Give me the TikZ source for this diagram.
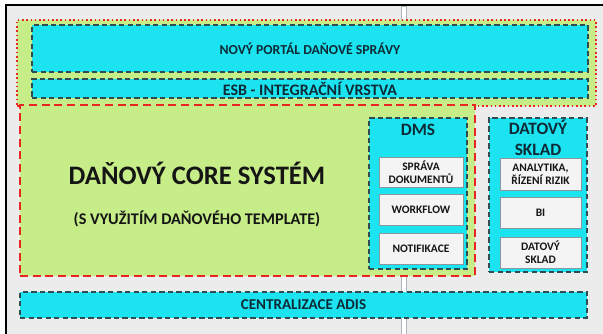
\documentclass[tikz,border=0pt]{standalone}
\usepackage{fontspec}
\setmainfont{Carlito}
\usepackage{tikz}
\usetikzlibrary{fit,backgrounds}
\definecolor{TaxCyan}{HTML}{1CE3F0}
\definecolor{TaxGreen}{HTML}{C6ED88}
\definecolor{TaxRed}{HTML}{E8251E}
\definecolor{TaxDark}{HTML}{2E4C52}
\definecolor{TaxNavy}{HTML}{0E2A36}
\definecolor{TaxText}{HTML}{151515}
\definecolor{TaxPaper}{HTML}{ECECEC}
\definecolor{TaxWhite}{HTML}{F4F4F4}
\definecolor{TaxGrey}{HTML}{8A979B}
\tikzset{
    % Box styles
    layerbox/.style={
        rectangle,
        draw=TaxDark,
        fill=TaxCyan,
        line width=1pt,
        dash pattern=on 4pt off 2.4pt,
        inner sep=0pt
    },
    groupbox/.style={
        rectangle,
        draw=TaxRed,
        fill=TaxGreen,
        line width=1.2pt,
        dash pattern=on 1.2pt off 2pt,
        inner sep=0pt
    },
    corebox/.style={
        rectangle,
        draw=TaxRed,
        fill=TaxGreen,
        line width=2pt,
        dash pattern=on 6pt off 3.5pt,
        inner sep=0pt
    },
    itembox/.style={
        rectangle,
        draw=TaxGrey,
        fill=TaxWhite,
        line width=0.6pt,
        inner sep=0pt
    },
    % Text styles
    layertext/.style={
        inner sep=0pt,
        text=TaxNavy,
        font=\fontsize{11}{13}\selectfont\bfseries
    },
    itemtext/.style={
        inner sep=0pt,
        align=center,
        text=TaxText,
        font=\fontsize{8.6}{9.8}\selectfont\bfseries
    },
    headtext/.style={
        inner sep=0pt,
        align=center,
        text=TaxNavy,
        font=\fontsize{13}{15.5}\selectfont\bfseries
    }
}
\begin{document}
\begin{tikzpicture}[x=0.75pt,y=-0.75pt]
    % Page and sheet
    \useasboundingbox (0,0) rectangle (603,334);
    \fill[white] (0,0) rectangle (603,334);
    \fill[TaxPaper] (6,5) rectangle (603,334);
    \draw[black,line width=1.3pt] (6,334) -- (6,5) -- (603,5);
    \filldraw[fill=white,draw=TaxGrey!70,line width=0.5pt] (401,6) rectangle (406,334);

    % Top layers
    \node[groupbox,fit={(17,20) (596,106)}] (toparea) {};
    \node[layerbox,fit={(32,25) (588,72)}] (portal) {};
    \node[layertext,font=\fontsize{10.3}{12}\selectfont\bfseries] (portaltext) at (portal.center) {NOVÝ PORTÁL DAŇOVÉ SPRÁVY};
    \node[layerbox,fit={(32,79) (588,98)}] (esb) {};
    \node[layertext,font=\fontsize{12}{14}\selectfont\bfseries] (esbtext) at (esb.center) {ESB - INTEGRAČNÍ VRSTVA};

    % Core system
    \node[corebox,fit={(20,105) (475,276)}] (core) {};
    \node[text=TaxText,font=\fontsize{20}{24}\selectfont\bfseries] (coretitle) at (197,173) {DAŇOVÝ CORE SYSTÉM};
    \node[text=TaxText,font=\fontsize{12.2}{14}\selectfont\bfseries] (coresub) at (197,219) {(S VYUŽITÍM DAŇOVÉHO TEMPLATE)};

    % DMS
    \node[layerbox,fit={(369,118) (467,269)}] (dms) {};
    \node[headtext] (dmstitle) at (418,130) {DMS};
    \node[itembox,fit={(379,157) (463,187)}] (sprava) {};
    \node[itemtext] (spravatext) at (sprava.center) {SPRÁVA\\DOKUMENTŮ};
    \node[itembox,fit={(379,194) (463,225)}] (workflow) {};
    \node[itemtext] (workflowtext) at (workflow.center) {WORKFLOW};
    \node[itembox,fit={(379,233) (463,264)}] (notif) {};
    \node[itemtext] (notiftext) at (notif.center) {NOTIFIKACE};

    % Datovy sklad
    \node[layerbox,fit={(489,118) (587,272)}] (dwh) {};
    \node[headtext] (dwhtitle) at (538,138) {DATOVÝ\\SKLAD};
    \node[itembox,fit={(500,158) (581,190)}] (analytika) {};
    \node[itemtext] (analytikatext) at (analytika.center) {ANALYTIKA,\\ŘÍZENÍ RIZIK};
    \node[itembox,fit={(500,197) (581,228)}] (bi) {};
    \node[itemtext] (bitext) at (bi.center) {BI};
    \node[itembox,fit={(500,237) (581,268)}] (sklad) {};
    \node[itemtext] (skladtext) at (sklad.center) {DATOVÝ\\SKLAD};

    % Bottom layer
    \node[layerbox,fit={(20,292) (587,318)}] (adis) {};
    \node[layertext,font=\fontsize{11.3}{13}\selectfont\bfseries] (adistext) at (adis.center) {CENTRALIZACE ADIS};
\end{tikzpicture}
\end{document}
